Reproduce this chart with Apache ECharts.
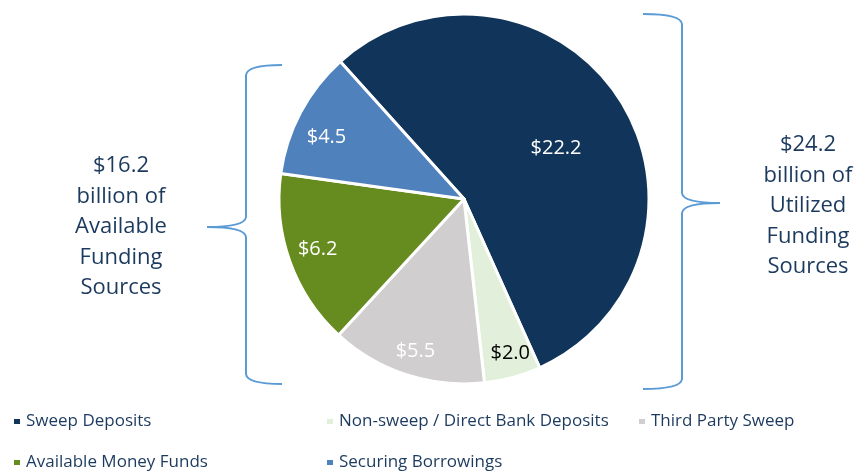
<!DOCTYPE html>
<html>
<head>
<meta charset="utf-8">
<script src="https://cdn.jsdelivr.net/npm/echarts@6/dist/echarts.min.js"></script>
<style>
  html, body { margin: 0; padding: 0; background: #fff; }
  #chart { width: 858px; height: 471px; }
</style>
</head>
<body>
<div id="chart"></div>
<script>
var categories = ['Sweep Deposits', 'Non-sweep / Direct Bank Deposits', 'Third Party Sweep', 'Available Money Funds', 'Securing Borrowings'];
var values = [22.2, 2.0, 5.5, 6.2, 4.5];
var colors = ['#10345a', '#e2efda', '#d0cece', '#668b1f', '#4f81bd'];
var labelColors = ['#ffffff', '#000000', '#ffffff', '#ffffff', '#ffffff'];
var leftText = ['$16.2', 'billion of', 'Available', 'Funding', 'Sources'];
var rightText = ['$24.2', 'billion of', 'Utilized', 'Funding', 'Sources'];

var textColor = '#1c3a5e';
var braceColor = '#5b9bd5';
var cx = 464, cy = 199;
// label placement tweaks: push outward from centre, then nudge
var labelPush = [1.15, 1.72, 1.7, 1.65, 1.63];
var labelNudge = [[0, 9], [3, -4], [2, -2], [2, -3], [0, 11]];

var myChart = echarts.init(document.getElementById('chart'));

var legendPos = [[12, 413], [325, 413], [637, 413], [12, 454], [325, 454]];
var legends = categories.map(function (name, i) {
  return {
    data: [name],
    left: legendPos[i][0],
    top: legendPos[i][1],
    padding: 0,
    icon: 'rect',
    itemWidth: 8,
    itemHeight: 7,
    itemGap: 8,
    selectedMode: false,
    textStyle: { color: textColor, fontSize: 17, fontFamily: 'Open Sans' }
  };
});

function textBlock(lines, x, y0) {
  return lines.map(function (t, i) {
    return {
      type: 'text',
      x: x,
      y: y0 + i * 30.5,
      style: {
        text: t,
        fill: textColor,
        font: '22px "Open Sans"',
        textAlign: 'center',
        textVerticalAlign: 'middle'
      }
    };
  });
}

// curly brace: x0 = open ends, xl = spine, xt = tip, from y top to y bottom, tip at ym
function brace(x0, xl, xt, yTop, ym, yBot) {
  var d = xt > xl ? 1 : -1;
  var st = { stroke: braceColor, lineWidth: 2, fill: null };
  function bz(a, b, c) {
    return { type: 'bezierCurve', shape: { x1: a[0], y1: a[1], cpx1: b[0], cpy1: b[1], x2: c[0], y2: c[1] }, style: st };
  }
  function ln(a, b) {
    return { type: 'line', shape: { x1: a[0], y1: a[1], x2: b[0], y2: b[1] }, style: st };
  }
  return [
    bz([x0, yTop], [xl - d, yTop], [xl, yTop + 10]),
    ln([xl, yTop + 10], [xl, ym - 10]),
    bz([xl, ym - 10], [xl + d, ym], [xt, ym]),
    bz([xt, ym], [xl + d, ym], [xl, ym + 10]),
    ln([xl, ym + 10], [xl, yBot - 10]),
    bz([xl, yBot - 10], [xl - d, yBot], [x0, yBot])
  ];
}

var option = {
  animation: false,
  color: colors,
  legend: legends,
  graphic: brace(282, 246, 207, 65, 227, 384)
    .concat(brace(643, 682, 720, 14, 203, 389))
    .concat(textBlock(leftText, 121, 166))
    .concat(textBlock(rightText, 808, 145)),
  series: [
    {
      type: 'pie',
      center: [cx, cy],
      radius: 185,
      startAngle: 132,
      clockwise: true,
      avoidLabelOverlap: false,
      itemStyle: { borderColor: '#ffffff', borderWidth: 3 },
      label: {
        show: true,
        position: 'inside',
        fontSize: 20,
        fontFamily: 'Open Sans',
        formatter: function (p) { return '$' + p.value.toFixed(1); }
      },
      labelLine: { show: false },
      labelLayout: function (params) {
        var r = params.labelRect;
        var mx = r.x + r.width / 2, my = r.y + r.height / 2;
        var k = labelPush[params.dataIndex];
        var n = labelNudge[params.dataIndex];
        return { x: cx + (mx - cx) * k + n[0], y: cy + (my - cy) * k + n[1] };
      },
      data: categories.map(function (name, i) {
        return { name: name, value: values[i], label: { color: labelColors[i] } };
      })
    }
  ]
};
myChart.setOption(option);
</script>
</body>
</html>
